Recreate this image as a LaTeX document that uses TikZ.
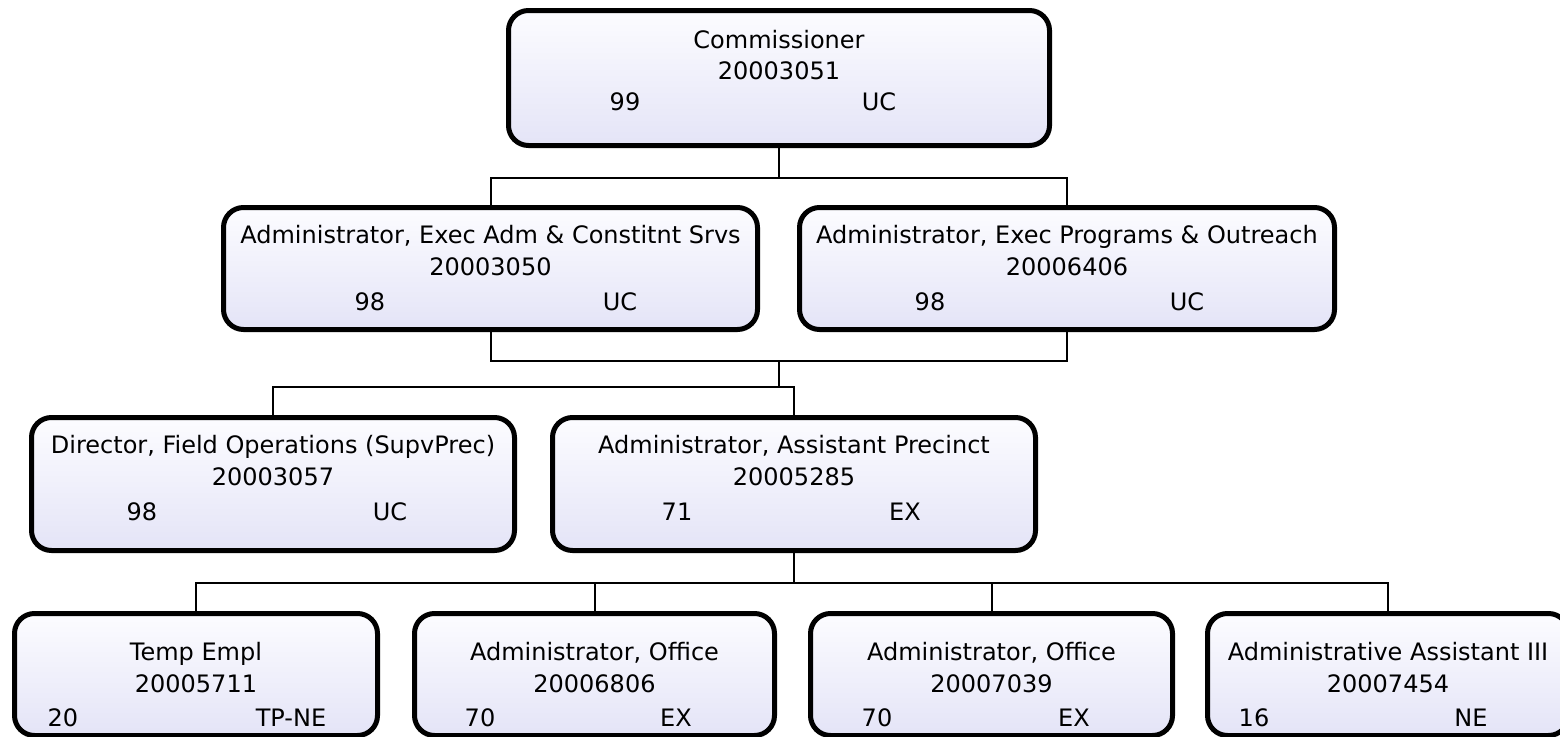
\documentclass[tikz,border=0pt]{standalone}
\usepackage{fontspec}
\setmainfont{DejaVu Sans}
\definecolor{boxtop}{RGB}{252,252,255}
\definecolor{boxbot}{RGB}{228,228,247}
\begin{document}
\begin{tikzpicture}[x=1pt,y=-1pt,
  orgbox/.style={draw=black, line width=5pt, rounded corners=20pt, top color=boxtop, bottom color=boxbot, inner sep=0pt},
  txt/.style={anchor=base, inner sep=0pt, font=\fontsize{24}{28}\selectfont},
  conn/.style={draw=black, line width=2pt}]
\useasboundingbox (0,0) rectangle (1560,736);
\clip (0,0) rectangle (1560,736);
% boxes
\node[orgbox, minimum width=541pt, minimum height=135pt] (comm) at (779,78) {};
\node[orgbox, minimum width=534pt, minimum height=122pt] (a1) at (490.5,268.5) {};
\node[orgbox, minimum width=535pt, minimum height=122pt] (a2) at (1067,268.5) {};
\node[orgbox, minimum width=483pt, minimum height=133pt] (b1) at (273,484) {};
\node[orgbox, minimum width=483pt, minimum height=133pt] (b2) at (794,484) {};
\node[orgbox, minimum width=363pt, minimum height=122pt] (c1) at (196,674.5) {};
\node[orgbox, minimum width=360pt, minimum height=122pt] (c2) at (594.5,674.5) {};
\node[orgbox, minimum width=362pt, minimum height=122pt] (c3) at (991.5,674.5) {};
\node[orgbox, minimum width=361pt, minimum height=122pt] (c4) at (1388,674.5) {};
% texts
\node[txt] (comm1) at (779,48) {Commissioner};
\node[txt] (comm2) at (779,79) {20003051};
\node[txt] (comm3) at (625,110) {99};
\node[txt] (comm4) at (879,110) {UC};
\node[txt] (a11) at (490.5,243) {Administrator, Exec Adm \& Constitnt Srvs};
\node[txt] (a12) at (490.5,275) {20003050};
\node[txt] (a13) at (370,310) {98};
\node[txt] (a14) at (620,310) {UC};
\node[txt] (a21) at (1067,243) {Administrator, Exec Programs \& Outreach};
\node[txt] (a22) at (1067,275) {20006406};
\node[txt] (a23) at (930,310) {98};
\node[txt] (a24) at (1187,310) {UC};
\node[txt] (b11) at (273,453) {Director, Field Operations (SupvPrec)};
\node[txt] (b12) at (273,485) {20003057};
\node[txt] (b13) at (142,520) {98};
\node[txt] (b14) at (390,520) {UC};
\node[txt] (b21) at (794,453) {Administrator, Assistant Precinct};
\node[txt] (b22) at (794,485) {20005285};
\node[txt] (b23) at (677,520) {71};
\node[txt] (b24) at (905,520) {EX};
\node[txt] (c11) at (196,660) {Temp Empl};
\node[txt] (c12) at (196,692) {20005711};
\node[txt] (c13) at (63,726) {20};
\node[txt] (c14) at (291,726) {TP-NE};
\node[txt] (c21) at (594.5,660) {Administrator, Office};
\node[txt] (c22) at (594.5,692) {20006806};
\node[txt] (c23) at (480,726) {70};
\node[txt] (c24) at (676,726) {EX};
\node[txt] (c31) at (991.5,660) {Administrator, Office};
\node[txt] (c32) at (991.5,692) {20007039};
\node[txt] (c33) at (877,726) {70};
\node[txt] (c34) at (1074,726) {EX};
\node[txt] (c41) at (1388,660) {Administrative Assistant III};
\node[txt] (c42) at (1388,692) {20007454};
\node[txt] (c43) at (1254,726) {16};
\node[txt] (c44) at (1471,726) {NE};
% connectors
\coordinate (j1) at (779,178);
\coordinate (j2) at (779,361);
\coordinate (j3) at (779,387);
\coordinate (j4) at (794,583);
\draw[conn] (comm.south) -- (j1);
\draw[conn] (a1.north) |- (j1) -| (a2.north);
\draw[conn] (a1.south) |- (j2) -| (a2.south);
\draw[conn] (j2) -- (j3);
\draw[conn] (b1.north) |- (j3) -| (b2.north);
\draw[conn] (b2.south) -- (j4);
\draw[conn] (c1.north) |- (j4) -| (c4.north);
\draw[conn] (c2.north) -- (c2.north |- j4);
\draw[conn] (c3.north) -- (c3.north |- j4);
\end{tikzpicture}
\end{document}
